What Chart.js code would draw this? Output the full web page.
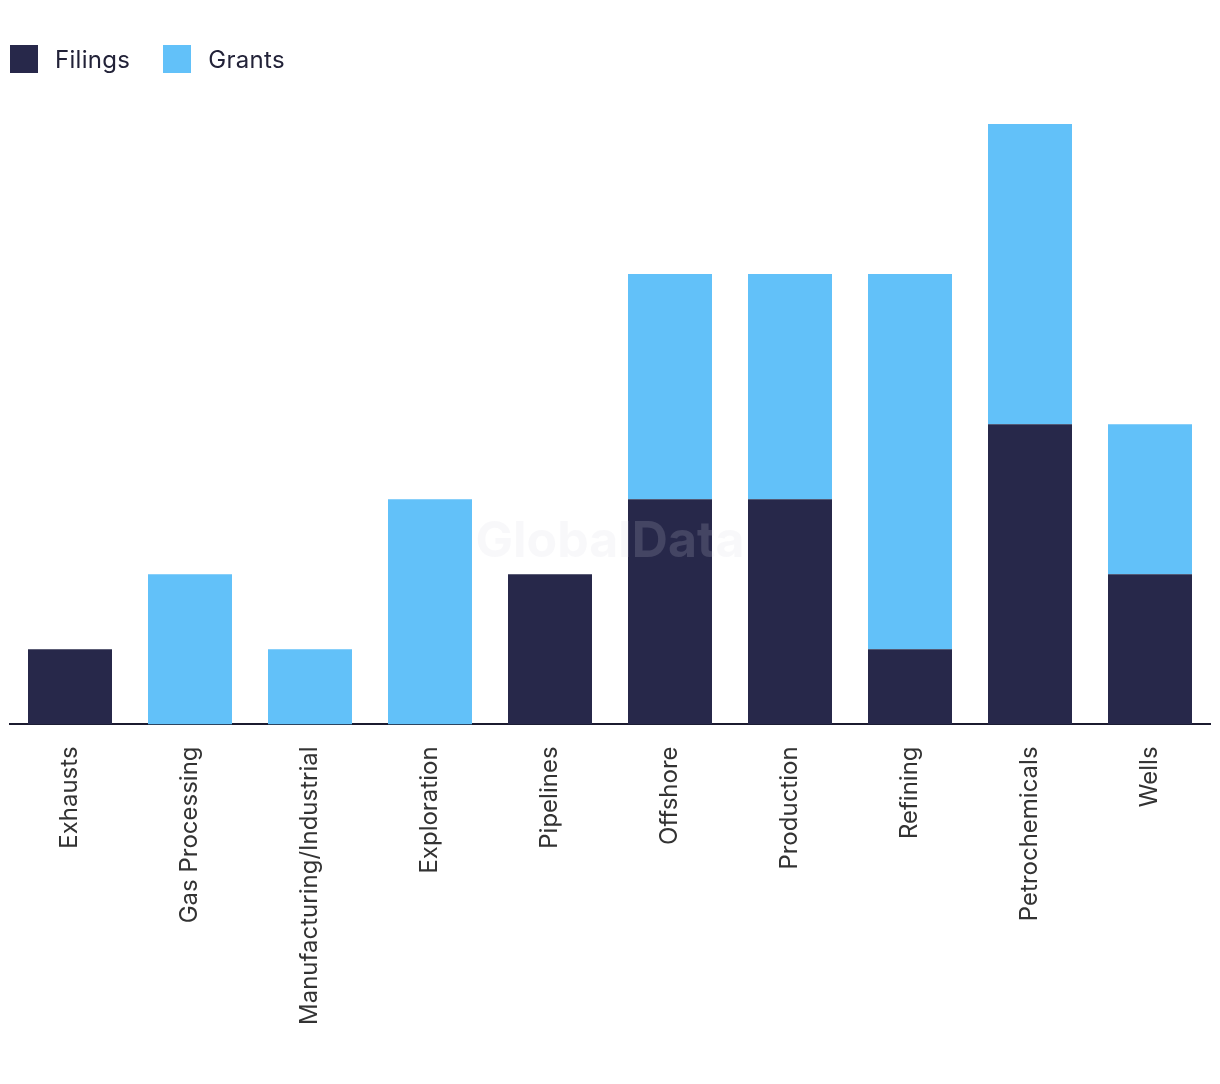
<!DOCTYPE html>
<html>
<head>
<meta charset="utf-8">
<script src="https://cdn.jsdelivr.net/npm/chart.js@4"></script>
<style>
  html, body { margin: 0; padding: 0; background: #fff; }
  #wrap { position: relative; width: 1220px; height: 1084px; }
  #legend { position: absolute; left: 10px; top: 45px; display: flex; font-family: Inter, "Noto Sans", sans-serif; font-size: 24px; letter-spacing: 0.3px; color: #222238; }
  .item { display: flex; align-items: center; height: 28px; margin-right: 33px; }
  .swatch { width: 28px; height: 28px; margin-right: 17px; }
</style>
</head>
<body>
<div id="wrap">
  <div id="legend"></div>
  <canvas id="chart"></canvas>
</div>
<script>
const categories = ["Exhausts", "Gas Processing", "Manufacturing/Industrial", "Exploration", "Pipelines",
  "Offshore", "Production", "Refining", "Petrochemicals", "Wells"];
const filings = [1, 0, 0, 0, 2, 3, 3, 1, 4, 2];
const grants = [0, 2, 1, 3, 0, 3, 3, 5, 4, 2];

const seriesNames = ["Filings", "Grants"];
const seriesColors = ["#27284a", "#62c1f9"];

// Faint watermark drawn over the bars
const watermark = {
  id: "watermark",
  afterDatasetsDraw(chart) {
    const { ctx, chartArea } = chart;
    ctx.save();
    ctx.font = "bold 50px Inter, 'Noto Sans', sans-serif";
    ctx.fillStyle = "rgba(215,215,225,0.17)";
    ctx.textAlign = "center";
    ctx.textBaseline = "middle";
    ctx.fillText("GlobalData", (chartArea.left + chartArea.right) / 2, 542);
    ctx.restore();
  }
};

const chart = new Chart(document.getElementById("chart"), {
  type: "bar",
  data: {
    labels: categories,
    datasets: [
      { label: seriesNames[0], data: filings, backgroundColor: seriesColors[0] },
      { label: seriesNames[1], data: grants, backgroundColor: seriesColors[1] }
    ]
  },
  options: {
    responsive: true,
    maintainAspectRatio: false,
    animation: false,
    layout: { padding: { left: 10, right: 10, top: 124, bottom: 37 } },
    datasets: { bar: { barPercentage: 0.7, categoryPercentage: 1 } },
    scales: {
      x: {
        stacked: true,
        grid: { display: false, drawTicks: false },
        border: { display: true, color: "#1b1b2f", width: 2 },
        ticks: {
          color: "#333",
          font: { family: "Inter, 'Noto Sans', sans-serif", size: 24 },
          minRotation: 90,
          maxRotation: 90,
          padding: 22
        }
      },
      y: {
        stacked: true,
        display: false,
        min: 0,
        max: 8
      }
    },
    plugins: {
      legend: { display: false },
      tooltip: { enabled: false }
    }
  },
  plugins: [watermark]
});

// HTML legend built from the datasets
document.getElementById("legend").innerHTML = chart.data.datasets.map(ds =>
  `<div class="item"><div class="swatch" style="background:${ds.backgroundColor}"></div><span>${ds.label}</span></div>`
).join("");
</script>
</body>
</html>
